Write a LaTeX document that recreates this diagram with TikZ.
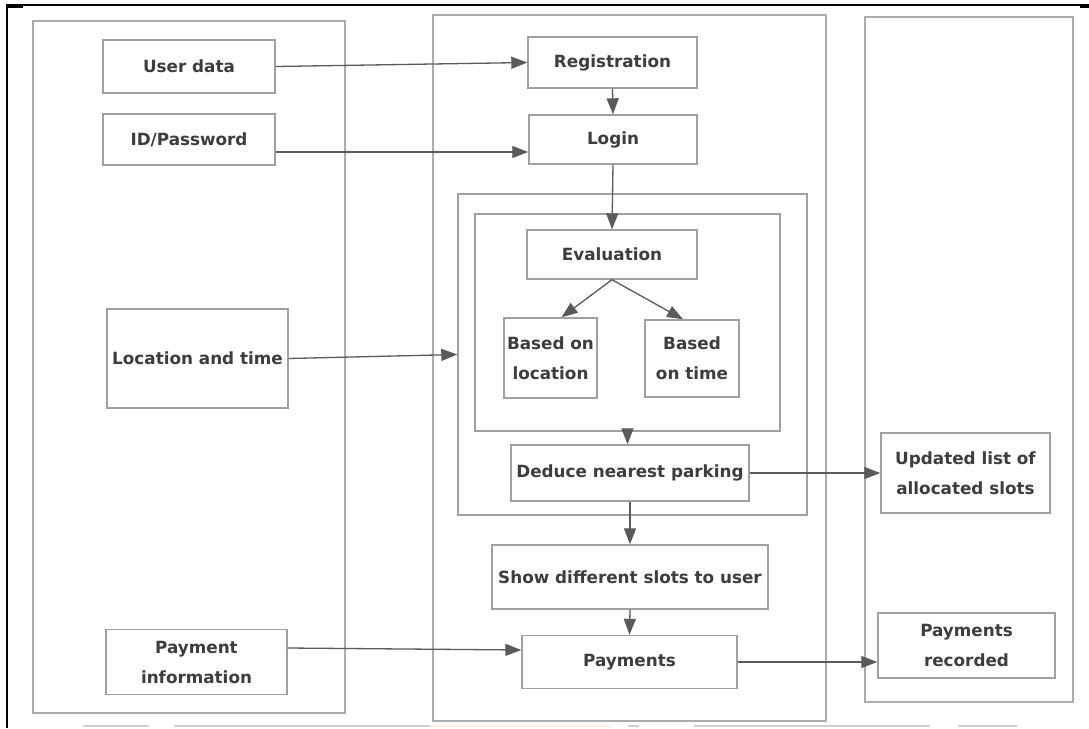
\documentclass[tikz,border=0pt]{standalone}
\usepackage{fontspec}
\setmainfont{DejaVu Sans}
\usetikzlibrary{arrows.meta,calc}
\definecolor{panelgray}{HTML}{ABABAB}
\definecolor{boxgray}{HTML}{A0A0A0}
\definecolor{txtgray}{HTML}{3D3D3D}
\definecolor{linegray}{HTML}{5A5A5A}
\definecolor{artgray}{HTML}{CFCFCF}
\tikzset{
  panel/.style={draw=panelgray, line width=1.6pt, inner sep=0pt, fill=none},
  box/.style={draw=boxgray, line width=1.4pt, inner sep=0pt, align=center,
    text=txtgray, font=\fontsize{16.8pt}{30pt}\selectfont\bfseries},
  conn/.style={draw=linegray, line width=1.3pt,
    -{Triangle[length=16pt,width=12pt]}},
}
\begin{document}
\begin{tikzpicture}[x=1pt,y=-1pt]
\useasboundingbox (0,0) rectangle (1089,728);
\fill[white] (0,0) rectangle (1089,728);
% outer frame
\draw[black, line width=2pt] (7,5) -- (1085,5);
\draw[black, line width=2pt] (7,4) -- (7,728);
\fill[black] (6,4) rectangle (23,8);
\fill[black] (1080,4) rectangle (1089,8);
% bottom artifacts
\begin{scope}[artgray, line width=2pt]
\draw (83,726) -- (149,726);
\draw (174,726) -- (430,726);
\draw[color=orange!15] (430,726) -- (611,726);
\draw (628,726) -- (639,726);
\draw (694,726) -- (930,726);
\draw (958,726) -- (1017,726);
\end{scope}
% panels
\node[panel, minimum width=312pt, minimum height=692pt] (leftp) at (189,367) {};
\node[panel, minimum width=393pt, minimum height=706pt] (midp) at (629.5,368) {};
\node[panel, minimum width=208pt, minimum height=685pt] (rightp) at (969,359.5) {};
% containers
\node[box, minimum width=349pt, minimum height=321pt] (outer) at (632.5,354.5) {};
\node[box, minimum width=305pt, minimum height=217pt] (inner) at (627.5,322.5) {};
% left boxes
\node[box, minimum width=172pt, minimum height=53pt] (ud) at (189,66.5) {User data};
\node[box, minimum width=172pt, minimum height=51pt] (idp) at (189,139.5) {ID/Password};
\node[box, minimum width=181pt, minimum height=99pt] (lt) at (197.5,358.5) {Location and time};
\node[box, minimum width=181pt, minimum height=65pt] (pi) at (196.5,662) {Payment\\information};
% middle boxes
\node[box, minimum width=169pt, minimum height=51pt] (reg) at (612.5,62.5) {Registration};
\node[box, minimum width=168pt, minimum height=49pt] (login) at (613,139.5) {Login};
\node[box, minimum width=170pt, minimum height=49pt] (eval) at (612,254.5) {Evaluation};
\node[box, minimum width=93pt, minimum height=80pt] (bloc) at (550.5,358) {Based on\\location};
\node[box, minimum width=94pt, minimum height=77pt] (btime) at (692,358.5) {Based\\on time};
\node[box, minimum width=238pt, minimum height=56pt] (ded) at (630,473) {Deduce nearest parking};
\node[box, minimum width=276pt, minimum height=64pt] (show) at (630,577) {Show different slots to user};
\node[box, minimum width=215pt, minimum height=53pt] (pay) at (629.5,662) {Payments};
% right boxes
\node[box, minimum width=169pt, minimum height=80pt] (upd) at (965.5,473) {Updated list of\\allocated slots};
\node[box, minimum width=177pt, minimum height=65pt] (prec) at (966.5,645.5) {Payments\\recorded};
% connectors
\draw[conn] (ud.east) -- (reg.west);
\draw[conn] ([yshift=-12.5pt]idp.east) -- ([yshift=-12.5pt]login.west);
\draw[conn] (reg.south) -- (login.north);
\draw[conn] (login.south) -- (eval.north);
\draw[conn] (eval.south) -- ([xshift=11pt]bloc.north);
\draw[conn] (eval.south) -- ([xshift=-9pt]btime.north);
\draw[conn] (lt.east) -- (outer.west);
\draw[conn] (inner.south) -- (inner.south |- ded.north);
\draw[conn] (ded.east) -- (upd.west);
\draw[conn] (ded.south) -- (show.north);
\draw[conn] (show.south) -- (pay.north);
\draw[conn] ([yshift=14pt]pi.east) -- ([yshift=12pt]pay.west);
\draw[conn] (pay.east) -- (pay.east -| prec.west);
\end{tikzpicture}
\end{document}
